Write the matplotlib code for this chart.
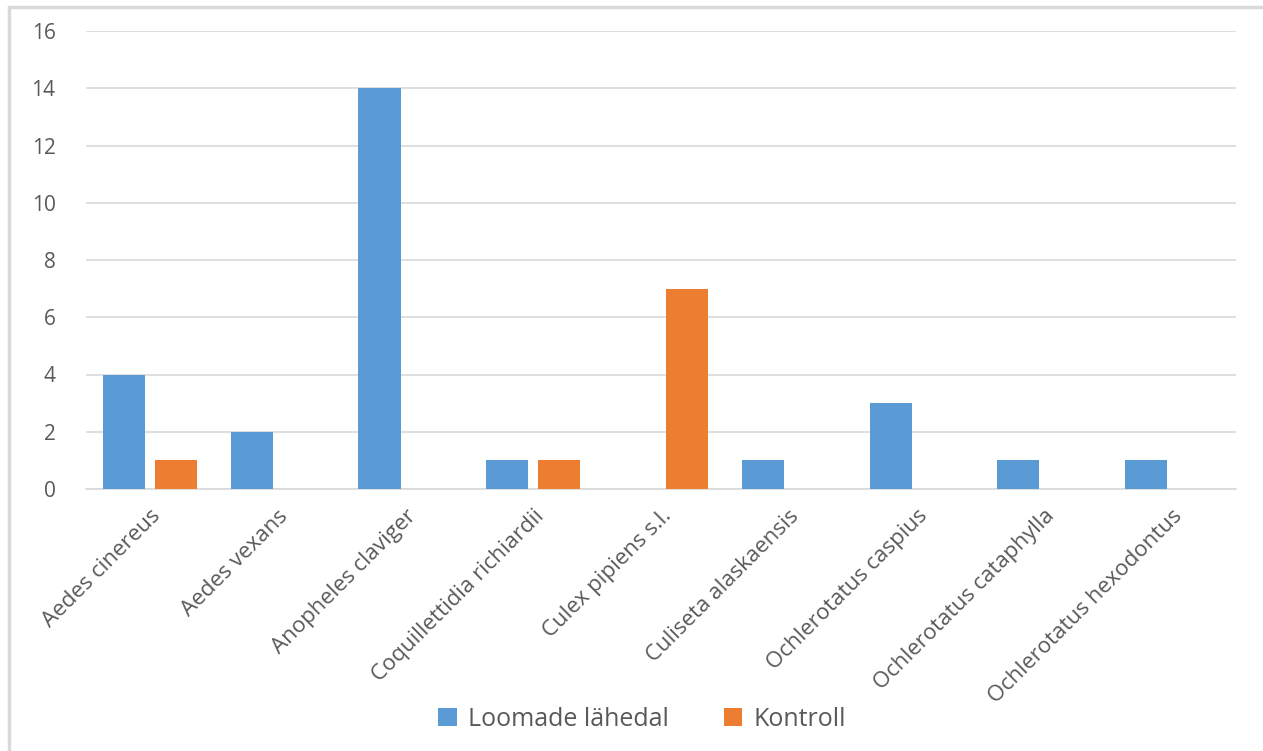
import numpy as np
import matplotlib.pyplot as plt
from matplotlib.patches import Rectangle

species = ["Aedes cinereus", "Aedes vexans", "Anopheles claviger",
           "Coquillettidia richiardii", "Culex pipiens s.l.", "Culiseta alaskaensis",
           "Ochlerotatus caspius", "Ochlerotatus cataphylla", "Ochlerotatus hexodontus"]
near_animals = [4, 2, 14, 1, 0, 1, 3, 1, 1]
control = [1, 0, 0, 1, 7, 0, 0, 0, 0]
series_names = ["Loomade lähedal", "Kontroll"]
yticks = [0, 2, 4, 6, 8, 10, 12, 14, 16]

blue = "#5B9BD5"
orange = "#ED7D31"
txt = "#595959"

plt.rcParams['font.family'] = ['Open Sans', 'DejaVu Sans']

W, H = 1263, 751
fig = plt.figure(figsize=(W / 100, H / 100), dpi=100)
# plot area in pixel coords
left, right, top, bottom = 86, 1236, 31, 489
ax = fig.add_axes([left / W, 1 - bottom / H, (right - left) / W, (bottom - top) / H])

# chart border (only left and top visible in the cropped screenshot)
fig.patches.append(Rectangle((9 / W, -0.1), 1.2, 1 - 7 / H + 0.1, transform=fig.transFigure,
                             fill=False, edgecolor="#D9D9D9", linewidth=2.5))

x = np.arange(len(species))
w = 0.33
off = 0.203
ax.bar(x - off, near_animals, w, color=blue, label=series_names[0], zorder=3)
ax.bar(x + off, control, w, color=orange, label=series_names[1], zorder=3)

ax.set_xlim(-0.5, len(species) - 0.5)
ax.set_ylim(0, 16)
ax.set_yticks(yticks)
ax.yaxis.grid(True, color="#D9D9D9", linewidth=1.2)
ax.set_axisbelow(True)
for s in ["top", "right", "left"]:
    ax.spines[s].set_visible(False)
ax.spines["bottom"].set_color("#D9D9D9")
ax.spines["bottom"].set_linewidth(1.2)
ax.tick_params(axis="y", length=0, colors=txt, labelsize=15, pad=22)
ax.set_xticks(x)
ax.set_xticklabels(species, rotation=45, ha="right", rotation_mode="anchor")
ax.tick_params(axis="x", length=0, colors=txt, labelsize=16, pad=12)

leg = fig.legend(loc="center", bbox_to_anchor=(642 / W, 1 - 719 / H), ncol=2, frameon=False,
                 fontsize=18, handlelength=0.75, handleheight=0.75, columnspacing=2.2,
                 handletextpad=0.45)
for t in leg.get_texts():
    t.set_color(txt)

fig.savefig("out.png", dpi=100)
